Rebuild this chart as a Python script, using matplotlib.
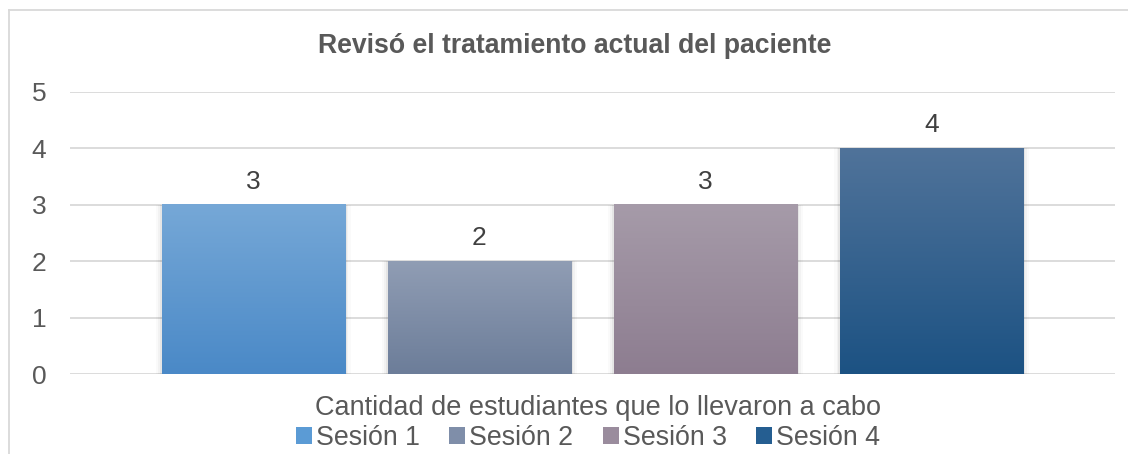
import numpy as np
import matplotlib
matplotlib.use("Agg")
import matplotlib.pyplot as plt
from matplotlib.patches import Patch, Rectangle
from matplotlib.colors import to_rgb
from matplotlib.lines import Line2D

# Datos
series = ["Sesión 1", "Sesión 2", "Sesión 3", "Sesión 4"]
valores = [3, 2, 3, 4]
titulo = "Revisó el tratamiento actual del paciente"
categoria = "Cantidad de estudiantes que lo llevaron a cabo"
color_arriba = ["#76A8D7", "#909DB4", "#A69BA9", "#50739A"]
color_abajo = ["#4A89C7", "#6C7D99", "#8D7D90", "#1C5283"]
color_medio = ["#5B9BD5", "#7F8EA9", "#9A8C9D", "#255E91"]

plt.rcParams['font.family'] = ['Liberation Sans', 'DejaVu Sans']

fig = plt.figure(figsize=(11.28, 4.54), dpi=100)
ax = fig.add_axes([70/1128, 80/454, 1045/1128, 282/454])

ancho = 0.81
pos = np.arange(len(valores)) - 1.5

# sombra suave detras de las barras
for x, v in zip(pos, valores):
    for k, a in [(0.008, 0.05), (0.016, 0.03), (0.026, 0.02)]:
        ax.add_patch(Rectangle((x - ancho/2 - k, 0), ancho + 2*k, v,
                               color="#000000", alpha=a, lw=0, zorder=1.5))

# barras con degradado
for i, (x, v) in enumerate(zip(pos, valores)):
    c1 = np.array(to_rgb(color_arriba[i]))
    c2 = np.array(to_rgb(color_abajo[i]))
    t = np.linspace(0, 1, 256)[:, None]
    grad = (c1 * (1 - t) + c2 * t)[:, None, :]
    ax.imshow(grad, extent=[x - ancho/2, x + ancho/2, 0, v], aspect='auto',
              origin='upper', zorder=2, interpolation='bilinear')
    ax.text(x, v + 0.2, str(v), ha='center', va='bottom', fontsize=19,
            color='#404040', zorder=3)

ax.set_xlim(-2.31, 2.31)
ax.set_ylim(0, 5)
ax.set_yticks(range(6))
ax.set_xticks([])
ax.yaxis.grid(True, color='#D9D9D9', lw=1.3)
ax.set_axisbelow(True)
for s in ax.spines.values():
    s.set_visible(False)
ax.tick_params(axis='y', length=0, pad=17, labelsize=19, labelcolor='#595959')

fig.text(575/1128, 1 - 46/454, titulo, ha='center', va='center',
         fontsize=19.2, fontweight='bold', color='#595959')
fig.text(598/1128, 1 - 408/454, categoria, ha='center', va='center',
         fontsize=19.5, color='#595959')

manijas = [Patch(facecolor=c, edgecolor='none') for c in color_medio]
fig.legend(manijas, series, loc='center', bbox_to_anchor=(588/1128, 1 - 438/454),
           ncol=4, frameon=False, fontsize=19.3, labelcolor='#595959',
           handlelength=0.6, handleheight=0.6, handletextpad=0.15,
           columnspacing=1.1, borderpad=0)

# marco del grafico (solo izquierda y arriba visibles)
fig.add_artist(Line2D([9/1128, 9/1128], [0, 1 - 10/454], transform=fig.transFigure,
                      color='#D9D9D9', lw=1.3))
fig.add_artist(Line2D([9/1128, 1], [1 - 10/454, 1 - 10/454], transform=fig.transFigure,
                      color='#D9D9D9', lw=1.3))

fig.savefig("out.png", dpi=100)
